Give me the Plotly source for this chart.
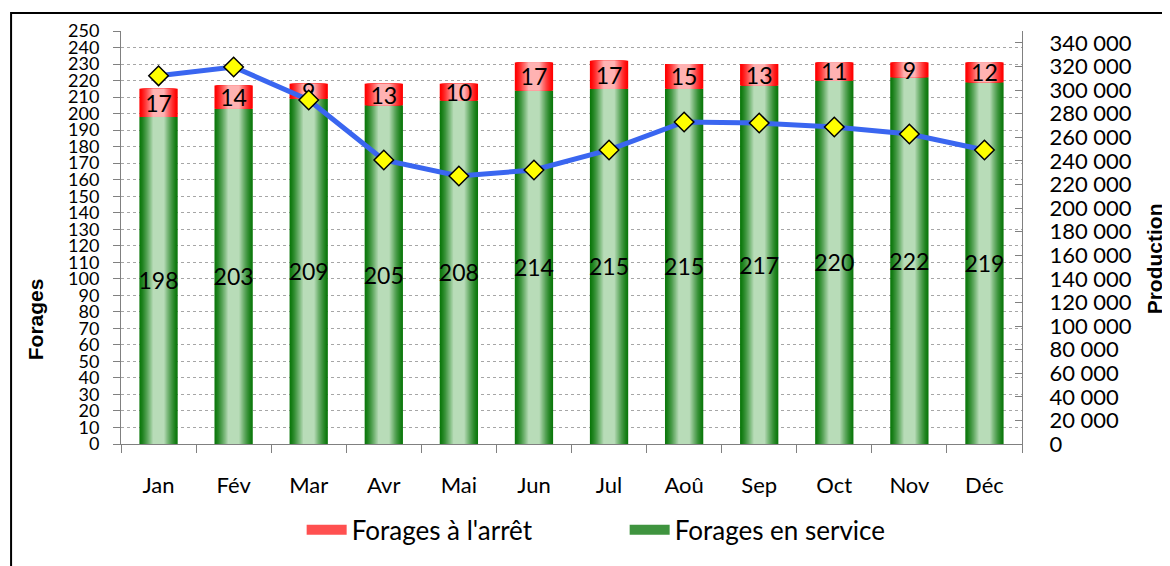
import plotly.graph_objects as go

# données
mois = ["Jan", "Fév", "Mar", "Avr", "Mai", "Jun", "Jul", "Aoû", "Sep", "Oct", "Nov", "Déc"]
en_service = [198, 203, 209, 205, 208, 214, 215, 215, 217, 220, 222, 219]
a_l_arret = [17, 14, 9, 13, 10, 17, 17, 15, 13, 11, 9, 12]
production = [312000, 319500, 291500, 240700, 227100, 232200, 249200, 272900, 272000, 268600, 262700, 249200]

FONT = "Lato, Carlito, 'Open Sans', sans-serif"
BAR_W = 0.51


def mix(c1, c2, t):
    return "rgb({},{},{})".format(*[round(a + (b - a) * t) for a, b in zip(c1, c2)])


def gradient_bars(fig, y, base, edge, center, n=16):
    # dégradé horizontal simulé par des barres superposées de plus en plus étroites
    for k in range(n):
        t = k / (n - 1)
        w = BAR_W * (1 - 0.7 * t)
        fig.add_trace(go.Bar(x=mois, y=y, base=base, width=w,
                             marker=dict(color=mix(edge, center, t ** 1.3), line_width=0),
                             showlegend=False, hoverinfo="skip"))


fig = go.Figure()
gradient_bars(fig, en_service, [0] * 12, (12, 120, 12), (184, 220, 184))
gradient_bars(fig, a_l_arret, en_service, (255, 0, 0), (255, 178, 178))

# étiquettes de valeurs
for y, base in [(en_service, [0] * 12), (a_l_arret, en_service)]:
    fig.add_trace(go.Bar(x=mois, y=y, base=base, width=BAR_W, text=y,
                         textposition="inside", insidetextanchor="middle", textangle=0,
                         constraintext="none", marker=dict(color="rgba(0,0,0,0)", line_width=0),
                         textfont=dict(size=23, color="black", family=FONT),
                         showlegend=False, hoverinfo="skip"))

fig.add_trace(go.Scatter(x=mois, y=production, yaxis="y2", mode="lines+markers",
                         line=dict(color="#3a66f0", width=5),
                         marker=dict(symbol="diamond", size=15, color="#ffff00",
                                     line=dict(color="black", width=1.5)),
                         showlegend=False))

# entrées de légende
fig.add_trace(go.Scatter(x=[None], y=[None], mode="lines", name="Forages à l'arrêt",
                         line=dict(color="#ff5050", width=16)))
fig.add_trace(go.Scatter(x=[None], y=[None], mode="lines", name="Forages en service",
                         line=dict(color="#3f943f", width=16)))

# la page ajoute une marge de 8 px autour du graphique
fig.update_layout(
    width=1162, height=558,
    margin=dict(l=113, r=148, t=23, b=122, autoexpand=False),
    barmode="overlay",
    plot_bgcolor="white", paper_bgcolor="white",
    separators=", ",
    font=dict(family=FONT, size=18, color="black"),
    xaxis=dict(showline=True, linecolor="#808080", ticks="outside", ticklen=8,
               tickcolor="#808080", tickson="boundaries", ticklabelstandoff=22,
               tickfont=dict(size=22), range=[-0.5, 11.5], automargin=False),
    yaxis=dict(range=[0, 250], dtick=10, showline=True, linecolor="#808080",
               ticks="outside", ticklen=7, tickcolor="#808080", ticklabelstandoff=10,
               showgrid=True, gridcolor="#a6a6a6", griddash="dot", zeroline=False,
               tickfont=dict(size=18), automargin=False),
    yaxis2=dict(overlaying="y", side="right", range=[0, 350000], dtick=20000,
                tickformat=",", showline=True, linecolor="#808080", ticks="inside",
                ticklen=7, tickcolor="#808080", showgrid=False, zeroline=False,
                ticklabelstandoff=22, tickfont=dict(size=22), automargin=False),
    legend=dict(orientation="h", x=0.559, xanchor="center", y=-0.208, yanchor="middle",
                font=dict(size=26), itemwidth=40, entrywidth=268, traceorder="normal"),
    annotations=[
        dict(text="<b>Forages</b>", x=-0.095, y=0.303, xref="paper", yref="paper",
             xanchor="center", yanchor="middle", textangle=-90, showarrow=False,
             font=dict(size=21, family="Liberation Sans, Arial")),
        dict(text="<b>Production</b>", x=1.163, y=0.448, xref="paper", yref="paper",
             xanchor="right", yanchor="middle", textangle=-90, showarrow=False,
             font=dict(size=21, family="Liberation Sans, Arial")),
    ],
    shapes=[dict(type="rect", xref="paper", yref="paper", x0=-0.122, x1=1.3,
                 y0=-0.6, y1=1.0436, line=dict(color="black", width=2))],
)

fig.write_html("out.html")
